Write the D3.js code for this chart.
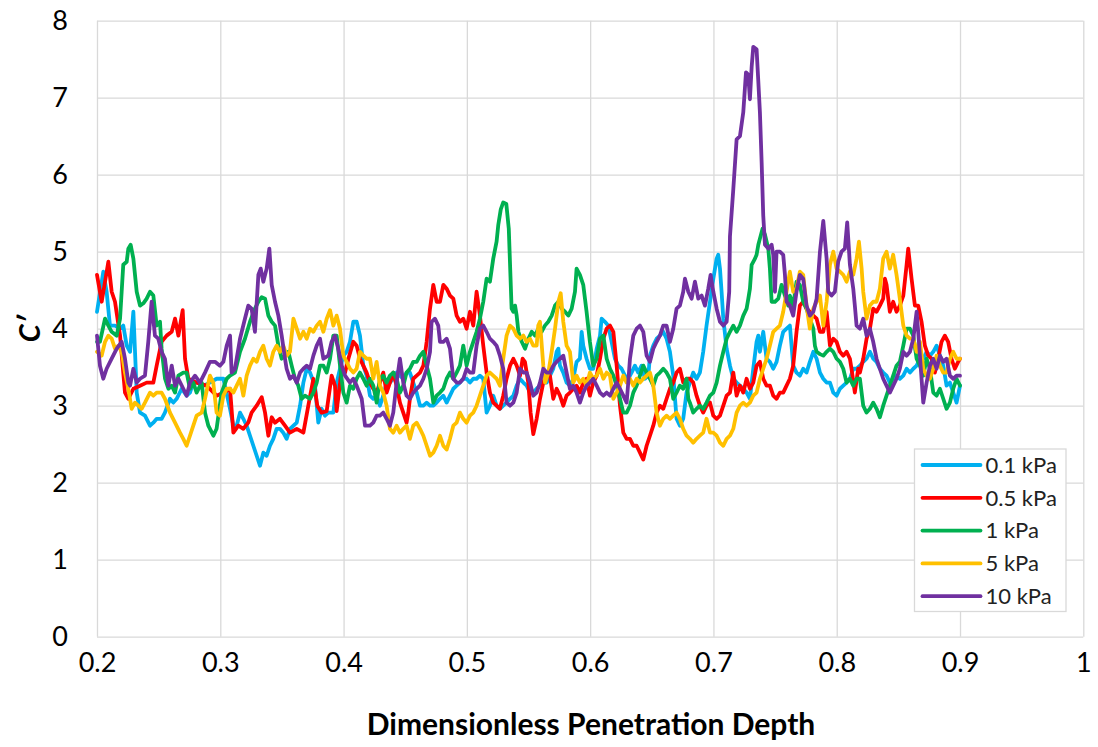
<!DOCTYPE html>
<html>
<head>
<meta charset="utf-8">
<script src="https://cdn.jsdelivr.net/npm/d3@7"></script>
<style>
  body { margin: 0; background: #fff; }
  svg { display: block; }
</style>
</head>
<body>
<svg id="chart" width="1098" height="747"></svg>
<script>
// ---- Data: [dimensionless penetration depth, C'] ----
const seriesNames = ["0.1 kPa", "0.5 kPa", "1 kPa", "5 kPa", "10 kPa"];
const xTicks = [0.2, 0.3, 0.4, 0.5, 0.6, 0.7, 0.8, 0.9, 1];
const xTickLabels = ["0.2", "0.3", "0.4", "0.5", "0.6", "0.7", "0.8", "0.9", "1"];
const yTicks = [0, 1, 2, 3, 4, 5, 6, 7, 8];

const kPa01 = [
  [.2000,4.22],[.2051,4.74],[.2078,4.48],[.2105,4.04],[.2146,4.04],[.2187,4.00],[.2213,4.04],[.2241,3.78],[.2268,3.70],[.2295,4.22],
  [.2322,3.17],[.2349,2.91],[.2389,2.87],[.2430,2.74],[.2457,2.78],[.2484,2.83],[.2524,2.83],[.2551,2.91],[.2592,3.09],[.2619,3.04],
  [.2646,3.09],[.2687,3.22],[.2727,3.13],[.2754,3.17],[.2781,3.30],[.2808,3.30],[.2862,3.26],[.2916,3.30],[.2970,3.35],[.3025,3.35],
  [.3079,2.96],[.3106,2.74],[.3133,2.74],[.3160,2.91],[.3187,2.83],[.3214,2.74],[.3241,2.61],[.3268,2.48],[.3295,2.35],[.3322,2.22],
  [.3349,2.39],[.3376,2.35],[.3403,2.48],[.3430,2.57],[.3457,2.70],[.3484,2.70],[.3511,2.65],[.3538,2.57],[.3565,2.70],[.3593,2.74],
  [.3620,2.78],[.3647,3.00],[.3674,3.30],[.3701,3.48],[.3728,3.43],[.3768,3.26],[.3795,2.78],[.3822,2.96],[.3849,2.87],[.3876,2.91],
  [.3917,2.91],[.3944,3.30],[.3971,3.48],[.3998,3.65],[.4025,3.70],[.4052,3.83],[.4079,4.09],[.4106,4.09],[.4133,3.91],[.4160,3.52],
  [.4187,3.39],[.4214,3.13],[.4241,3.09],[.4268,3.13],[.4295,3.00],[.4322,3.13],[.4349,3.30],[.4376,3.30],[.4403,3.35],[.4430,3.43],
  [.4457,3.39],[.4484,3.35],[.4511,3.43],[.4538,3.43],[.4565,3.30],[.4593,3.17],[.4620,3.00],[.4647,3.00],[.4674,3.04],[.4701,3.00],
  [.4728,3.00],[.4755,3.04],[.4782,3.09],[.4809,3.13],[.4836,3.04],[.4863,3.13],[.4890,3.22],[.4917,3.26],[.4944,3.30],[.4971,3.35],
  [.4998,3.35],[.5025,3.30],[.5052,3.35],[.5079,3.35],[.5106,3.39],[.5133,3.35],[.5160,2.91],[.5187,3.00],[.5214,3.13],[.5241,3.00],
  [.5268,2.96],[.5295,3.00],[.5322,3.04],[.5350,3.09],[.5377,3.13],[.5404,3.26],[.5431,3.35],[.5458,3.30],[.5485,3.26],[.5512,3.17],
  [.5539,3.17],[.5566,3.22],[.5593,3.26],[.5620,3.30],[.5647,3.30],[.5674,3.39],[.5701,3.48],[.5728,3.70],[.5742,3.74],[.5755,3.52],
  [.5782,3.43],[.5809,3.30],[.5836,3.26],[.5863,3.35],[.5890,3.57],[.5917,3.61],[.5931,3.96],[.5944,3.78],[.5971,3.61],[.5998,3.48],
  [.6025,3.48],[.6053,3.74],[.6080,3.91],[.6093,4.13],[.6120,4.09],[.6147,4.04],[.6174,3.83],[.6201,3.61],[.6228,3.52],[.6255,3.48],
  [.6282,3.39],[.6309,3.35],[.6336,3.43],[.6363,3.52],[.6390,3.43],[.6417,3.52],[.6444,3.35],[.6472,3.39],[.6485,3.65],[.6512,3.78],
  [.6539,3.87],[.6566,3.91],[.6593,3.96],[.6620,3.87],[.6647,3.70],[.6674,3.39],[.6701,2.83],[.6728,2.74],[.6755,2.83],[.6782,3.17],
  [.6809,3.30],[.6836,3.43],[.6863,3.35],[.6890,3.43],[.6917,3.70],[.6944,4.04],[.6972,4.35],[.6999,4.65],[.7026,4.91],[.7039,4.96],
  [.7053,4.78],[.7066,4.48],[.7080,4.13],[.7107,3.74],[.7134,3.52],[.7161,3.35],[.7188,3.30],[.7215,3.26],[.7242,3.22],[.7269,3.17],
  [.7296,3.09],[.7323,3.48],[.7350,3.83],[.7364,3.91],[.7377,3.70],[.7404,3.96],[.7431,3.61],[.7458,3.57],[.7485,3.48],[.7512,3.57],
  [.7539,3.78],[.7566,3.96],[.7593,4.00],[.7620,4.04],[.7647,3.52],[.7674,3.43],[.7701,3.39],[.7728,3.48],[.7755,3.43],[.7782,3.57],
  [.7810,3.70],[.7837,3.61],[.7864,3.43],[.7891,3.35],[.7918,3.30],[.7945,3.30],[.7972,3.17],[.7999,3.13],[.8026,3.22],[.8053,3.26],
  [.8080,3.30],[.8107,3.35],[.8134,3.48],[.8161,3.48],[.8188,3.52],[.8215,3.57],[.8242,3.61],[.8269,3.70],[.8296,3.61],[.8323,3.57],
  [.8350,3.48],[.8377,3.43],[.8404,3.39],[.8431,3.30],[.8458,3.35],[.8485,3.39],[.8512,3.35],[.8540,3.39],[.8567,3.48],[.8594,3.43],
  [.8621,3.48],[.8648,3.52],[.8675,3.61],[.8702,3.61],[.8729,3.70],[.8756,3.65],[.8783,3.70],[.8810,3.78],[.8837,3.65],[.8864,3.52],
  [.8891,3.26],[.8918,3.30],[.8945,3.17],[.8972,3.04],[.9000,3.26]
];

const kPa05 = [
  [.2000,4.70],[.2038,4.35],[.2092,4.87],[.2119,4.48],[.2146,4.35],[.2187,3.91],[.2227,3.17],[.2254,3.09],[.2295,3.22],[.2349,3.26],
  [.2403,3.30],[.2457,3.30],[.2484,3.52],[.2524,3.83],[.2565,3.91],[.2606,3.96],[.2633,4.13],[.2660,3.91],[.2695,4.24],[.2714,3.61],
  [.2741,3.35],[.2808,3.30],[.2889,3.26],[.2970,3.13],[.3025,3.17],[.3079,3.22],[.3106,2.65],[.3146,2.74],[.3187,2.70],[.3227,2.78],
  [.3254,2.91],[.3295,3.00],[.3336,3.11],[.3363,2.91],[.3390,2.61],[.3417,2.85],[.3444,2.78],[.3484,2.83],[.3525,2.74],[.3565,2.65],
  [.3620,2.70],[.3674,2.65],[.3714,3.00],[.3755,3.35],[.3787,3.00],[.3822,2.91],[.3863,2.93],[.3903,3.39],[.3930,3.26],[.3944,2.93],
  [.3985,3.48],[.4012,3.43],[.4039,3.61],[.4079,3.83],[.4106,3.78],[.4133,3.61],[.4160,3.52],[.4187,3.43],[.4214,3.30],[.4241,3.22],
  [.4268,3.17],[.4295,3.30],[.4322,3.43],[.4349,3.17],[.4376,3.30],[.4403,3.43],[.4430,3.26],[.4457,3.04],[.4484,2.91],[.4511,2.78],
  [.4525,2.91],[.4538,3.09],[.4565,3.35],[.4593,3.39],[.4620,3.43],[.4647,3.52],[.4674,3.83],[.4701,4.26],[.4728,4.57],[.4755,4.35],
  [.4782,4.35],[.4809,4.57],[.4836,4.52],[.4863,4.43],[.4890,4.39],[.4917,4.17],[.4944,4.09],[.4971,4.13],[.4998,4.00],[.5025,4.22],
  [.5052,4.04],[.5079,4.48],[.5106,4.17],[.5133,3.78],[.5160,3.43],[.5187,3.17],[.5214,3.04],[.5241,3.00],[.5268,2.96],[.5295,3.13],
  [.5322,3.35],[.5350,3.52],[.5377,3.61],[.5404,3.52],[.5431,3.39],[.5452,3.61],[.5471,3.57],[.5498,3.30],[.5517,2.91],[.5539,2.63],
  [.5566,2.83],[.5593,3.09],[.5620,3.30],[.5647,3.43],[.5674,3.39],[.5701,3.09],[.5728,3.22],[.5755,3.13],[.5782,3.00],[.5809,3.13],
  [.5836,3.17],[.5863,3.22],[.5890,3.26],[.5917,3.17],[.5944,3.30],[.5971,3.35],[.5998,3.13],[.6025,3.30],[.6053,3.39],[.6080,3.61],
  [.6107,3.87],[.6134,4.00],[.6161,4.04],[.6188,3.96],[.6215,3.52],[.6242,3.00],[.6269,2.65],[.6296,2.57],[.6323,2.57],[.6350,2.48],
  [.6377,2.48],[.6404,2.39],[.6431,2.30],[.6458,2.48],[.6485,2.61],[.6512,2.74],[.6539,2.91],[.6566,3.00],[.6593,2.96],[.6620,3.09],
  [.6647,3.22],[.6674,3.30],[.6701,3.43],[.6728,3.48],[.6755,3.30],[.6782,3.35],[.6809,3.35],[.6836,3.30],[.6863,3.13],[.6890,3.00],
  [.6917,2.91],[.6944,3.00],[.6972,3.04],[.6999,2.87],[.7026,2.83],[.7053,2.87],[.7080,3.00],[.7107,3.13],[.7134,3.17],[.7161,3.43],
  [.7188,3.13],[.7215,3.26],[.7242,3.17],[.7269,3.35],[.7296,3.22],[.7323,3.30],[.7350,3.52],[.7377,3.57],[.7404,3.35],[.7431,3.26],
  [.7458,3.26],[.7485,3.13],[.7512,3.09],[.7539,3.17],[.7566,3.17],[.7593,3.26],[.7620,3.35],[.7647,3.52],[.7674,3.96],[.7701,4.30],
  [.7728,4.35],[.7755,4.26],[.7782,4.22],[.7810,4.17],[.7837,4.13],[.7864,3.96],[.7891,3.96],[.7918,4.22],[.7945,3.78],[.7972,3.87],
  [.7999,3.83],[.8026,3.70],[.8053,3.65],[.8080,3.70],[.8107,3.61],[.8120,3.48],[.8147,3.17],[.8174,3.48],[.8188,3.43],[.8215,3.61],
  [.8242,3.87],[.8269,4.00],[.8296,4.26],[.8323,4.22],[.8350,4.30],[.8377,4.39],[.8391,4.65],[.8404,4.57],[.8431,4.22],[.8458,4.35],
  [.8485,4.22],[.8512,4.30],[.8540,4.43],[.8567,4.83],[.8580,5.04],[.8607,4.65],[.8634,4.30],[.8661,4.30],[.8688,4.09],[.8715,3.78],
  [.8742,3.65],[.8769,3.61],[.8796,3.43],[.8823,3.61],[.8850,3.83],[.8877,3.91],[.8904,3.83],[.8931,3.61],[.8958,3.48],[.8985,3.57],
  [.9000,3.61]
];

const kPa1 = [
  [.2000,3.83],[.2024,3.83],[.2065,4.13],[.2092,4.04],[.2119,3.96],[.2160,3.91],[.2187,4.13],[.2213,4.83],[.2241,4.87],[.2254,5.04],
  [.2273,5.09],[.2295,4.91],[.2322,4.48],[.2349,4.30],[.2376,4.33],[.2403,4.39],[.2430,4.48],[.2457,4.43],[.2484,4.04],[.2511,4.09],
  [.2524,3.74],[.2552,3.35],[.2579,3.22],[.2606,3.26],[.2633,3.17],[.2660,3.39],[.2700,3.43],[.2727,3.43],[.2754,3.22],[.2781,3.30],
  [.2808,3.17],[.2849,3.30],[.2876,2.91],[.2903,2.74],[.2944,2.61],[.2970,2.70],[.3011,3.17],[.3052,3.35],[.3079,3.39],[.3119,3.43],
  [.3160,3.70],[.3200,3.87],[.3241,4.09],[.3281,4.26],[.3309,4.35],[.3336,4.41],[.3363,4.39],[.3390,4.17],[.3417,4.09],[.3444,4.04],
  [.3471,3.78],[.3498,3.61],[.3525,3.65],[.3552,3.70],[.3579,3.52],[.3606,3.35],[.3633,3.26],[.3660,3.09],[.3687,3.13],[.3728,3.09],
  [.3755,3.17],[.3782,3.30],[.3809,3.52],[.3836,3.52],[.3863,3.43],[.3890,3.61],[.3917,3.91],[.3944,3.91],[.3971,3.52],[.3998,3.17],
  [.4025,3.04],[.4052,3.26],[.4079,3.22],[.4106,3.35],[.4133,3.43],[.4160,3.35],[.4187,3.26],[.4214,3.35],[.4241,3.26],[.4268,3.04],
  [.4295,3.35],[.4322,3.39],[.4349,3.30],[.4376,3.39],[.4403,3.43],[.4430,3.35],[.4457,3.17],[.4484,3.26],[.4511,3.43],[.4538,3.48],
  [.4565,3.57],[.4593,3.57],[.4620,3.65],[.4647,3.70],[.4674,3.52],[.4701,3.35],[.4728,3.04],[.4755,3.13],[.4782,3.17],[.4809,3.22],
  [.4836,3.35],[.4863,3.43],[.4890,3.35],[.4917,3.43],[.4944,3.52],[.4971,3.78],[.4998,3.52],[.5025,3.70],[.5052,3.83],[.5079,3.96],
  [.5106,4.13],[.5133,4.35],[.5160,4.65],[.5187,4.61],[.5214,4.91],[.5241,5.13],[.5255,5.35],[.5275,5.55],[.5295,5.64],[.5320,5.62],
  [.5340,5.30],[.5363,4.26],[.5377,4.22],[.5391,4.30],[.5404,4.17],[.5418,3.96],[.5445,3.83],[.5472,3.74],[.5499,3.87],[.5526,3.96],
  [.5552,3.91],[.5579,4.00],[.5606,3.96],[.5633,4.04],[.5660,4.09],[.5688,4.17],[.5715,4.30],[.5742,4.35],[.5769,4.26],[.5796,4.22],
  [.5823,4.17],[.5850,4.26],[.5877,4.48],[.5890,4.78],[.5917,4.70],[.5944,4.57],[.5971,4.22],[.5998,3.83],[.6025,3.52],[.6053,3.61],
  [.6080,3.87],[.6107,3.91],[.6134,3.61],[.6161,3.48],[.6188,3.39],[.6215,3.26],[.6242,3.09],[.6269,2.91],[.6296,2.91],[.6323,3.00],
  [.6350,3.17],[.6377,3.26],[.6404,3.39],[.6431,3.52],[.6458,3.43],[.6485,3.35],[.6512,3.26],[.6539,3.39],[.6566,3.43],[.6593,3.48],
  [.6620,3.43],[.6647,3.35],[.6674,3.09],[.6701,3.17],[.6728,3.26],[.6755,3.22],[.6782,3.35],[.6796,3.09],[.6809,3.04],[.6836,2.91],
  [.6863,2.96],[.6890,3.00],[.6917,2.96],[.6944,3.04],[.6972,3.13],[.6999,3.17],[.7026,3.30],[.7053,3.52],[.7080,3.70],[.7107,3.87],
  [.7134,3.96],[.7161,4.04],[.7188,3.96],[.7215,4.04],[.7242,4.17],[.7269,4.26],[.7283,4.39],[.7296,4.52],[.7310,4.83],[.7337,4.91],
  [.7350,4.96],[.7364,5.09],[.7377,5.17],[.7399,5.30],[.7418,5.22],[.7445,5.04],[.7458,4.78],[.7472,4.35],[.7499,4.35],[.7526,4.39],
  [.7553,4.57],[.7580,4.43],[.7607,4.30],[.7620,4.43],[.7647,4.30],[.7674,4.61],[.7701,4.57],[.7728,4.35],[.7755,4.26],[.7782,4.13],
  [.7810,4.00],[.7823,3.78],[.7837,3.70],[.7864,3.67],[.7891,3.65],[.7918,3.70],[.7945,3.74],[.7972,3.70],[.7999,3.61],[.8026,3.57],
  [.8053,3.48],[.8080,3.30],[.8107,3.35],[.8134,3.26],[.8161,3.35],[.8188,3.35],[.8215,3.00],[.8242,2.91],[.8269,2.96],[.8296,3.04],
  [.8323,2.96],[.8350,2.85],[.8377,3.00],[.8404,3.13],[.8431,3.26],[.8458,3.39],[.8485,3.52],[.8512,3.57],[.8540,3.78],[.8567,4.00],
  [.8594,4.00],[.8621,3.91],[.8648,3.61],[.8675,3.52],[.8702,3.39],[.8729,3.61],[.8756,3.48],[.8783,3.17],[.8810,3.13],[.8837,3.22],
  [.8864,3.09],[.8891,2.96],[.8918,3.04],[.8945,3.22],[.8972,3.35],[.9000,3.26]
];

const kPa5 = [
  [.2000,3.70],[.2038,3.65],[.2065,3.83],[.2092,3.91],[.2119,3.87],[.2146,3.74],[.2173,3.78],[.2200,3.70],[.2227,3.43],[.2254,3.22],
  [.2281,2.96],[.2308,3.04],[.2335,3.00],[.2362,2.96],[.2389,3.04],[.2430,3.17],[.2457,3.13],[.2484,3.17],[.2524,3.17],[.2551,3.09],
  [.2592,2.91],[.2633,2.78],[.2673,2.65],[.2700,2.57],[.2727,2.48],[.2754,2.61],[.2781,2.74],[.2808,2.87],[.2849,2.91],[.2876,3.09],
  [.2916,3.39],[.2943,3.30],[.2970,2.91],[.2997,2.87],[.3025,3.13],[.3052,3.22],[.3079,3.22],[.3106,3.17],[.3133,3.26],[.3160,3.35],
  [.3187,3.13],[.3214,3.39],[.3241,3.52],[.3268,3.61],[.3295,3.57],[.3322,3.70],[.3349,3.78],[.3376,3.61],[.3403,3.52],[.3430,3.70],
  [.3457,3.78],[.3484,3.70],[.3511,3.78],[.3538,3.65],[.3565,3.70],[.3593,4.13],[.3620,4.00],[.3647,3.87],[.3674,3.96],[.3701,3.87],
  [.3728,4.00],[.3755,3.96],[.3782,4.04],[.3809,4.09],[.3836,3.96],[.3863,4.13],[.3890,4.24],[.3917,4.04],[.3944,4.17],[.3971,4.00],
  [.3998,3.65],[.4025,3.57],[.4052,3.48],[.4079,3.43],[.4106,3.48],[.4133,3.70],[.4160,3.65],[.4187,3.61],[.4214,3.61],[.4241,3.35],
  [.4268,3.57],[.4295,3.26],[.4322,3.17],[.4349,3.00],[.4376,2.70],[.4403,2.65],[.4430,2.74],[.4457,2.65],[.4484,2.70],[.4511,2.74],
  [.4538,2.57],[.4565,2.74],[.4593,2.78],[.4620,2.70],[.4647,2.61],[.4674,2.48],[.4701,2.35],[.4728,2.39],[.4755,2.48],[.4782,2.61],
  [.4809,2.48],[.4836,2.43],[.4863,2.57],[.4890,2.74],[.4917,2.78],[.4944,2.91],[.4971,2.83],[.4998,2.78],[.5025,2.87],[.5052,2.91],
  [.5079,3.00],[.5106,3.13],[.5133,3.26],[.5160,3.39],[.5187,3.43],[.5214,3.39],[.5241,3.35],[.5268,3.26],[.5295,3.61],[.5322,3.91],
  [.5350,4.04],[.5377,4.00],[.5404,3.91],[.5431,3.87],[.5458,3.91],[.5485,3.83],[.5512,3.87],[.5539,3.78],[.5566,3.78],[.5579,4.04],
  [.5593,4.09],[.5620,3.52],[.5634,3.30],[.5661,3.43],[.5688,3.70],[.5715,4.00],[.5742,4.35],[.5761,4.46],[.5782,4.09],[.5809,3.78],
  [.5836,3.70],[.5863,3.30],[.5890,3.39],[.5917,3.30],[.5944,3.35],[.5971,3.26],[.5998,3.43],[.6025,3.35],[.6053,3.39],[.6080,3.48],
  [.6107,3.35],[.6134,3.43],[.6161,3.39],[.6188,3.09],[.6215,3.17],[.6242,3.26],[.6269,3.39],[.6296,3.30],[.6323,3.35],[.6350,3.26],
  [.6377,3.35],[.6404,3.30],[.6431,3.35],[.6458,3.39],[.6485,3.43],[.6512,3.26],[.6539,2.91],[.6566,2.74],[.6593,2.83],[.6620,2.87],
  [.6647,2.83],[.6674,2.87],[.6701,2.91],[.6728,2.83],[.6755,2.70],[.6782,2.61],[.6809,2.57],[.6836,2.52],[.6863,2.57],[.6890,2.61],
  [.6917,2.65],[.6944,2.83],[.6972,2.65],[.6999,2.65],[.7026,2.61],[.7053,2.52],[.7080,2.48],[.7107,2.57],[.7134,2.61],[.7161,2.70],
  [.7188,2.91],[.7215,3.00],[.7242,3.04],[.7269,3.00],[.7296,3.04],[.7323,3.13],[.7350,3.17],[.7377,3.35],[.7404,3.48],[.7431,3.61],
  [.7458,3.78],[.7485,3.96],[.7512,4.00],[.7539,4.04],[.7566,4.22],[.7593,4.48],[.7620,4.74],[.7647,4.48],[.7674,4.52],[.7701,4.74],
  [.7728,4.70],[.7755,4.30],[.7782,4.00],[.7810,4.26],[.7837,4.35],[.7864,4.43],[.7891,4.04],[.7918,4.35],[.7945,4.83],[.7972,5.00],
  [.7999,4.78],[.8026,4.74],[.8053,4.70],[.8080,4.61],[.8107,4.74],[.8134,4.70],[.8161,4.91],[.8180,5.13],[.8202,4.78],[.8215,4.48],
  [.8242,4.13],[.8269,4.30],[.8296,4.35],[.8323,4.35],[.8350,4.52],[.8377,4.91],[.8404,5.00],[.8431,4.78],[.8458,4.96],[.8485,4.70],
  [.8512,4.39],[.8540,4.04],[.8567,3.91],[.8594,3.87],[.8621,3.87],[.8648,3.70],[.8675,3.83],[.8702,3.48],[.8729,3.39],[.8756,3.35],
  [.8783,3.48],[.8810,3.65],[.8837,3.52],[.8864,3.43],[.8891,3.43],[.8918,3.61],[.8945,3.70],[.8972,3.61],[.9000,3.61]
];

const kPa10 = [
  [.2000,3.91],[.2024,3.52],[.2051,3.35],[.2078,3.48],[.2119,3.61],[.2160,3.74],[.2200,3.83],[.2227,3.61],[.2254,3.30],[.2268,3.26],
  [.2295,3.48],[.2322,3.30],[.2349,3.35],[.2389,3.39],[.2416,3.83],[.2443,4.35],[.2470,3.91],[.2497,3.87],[.2524,3.70],[.2551,3.61],
  [.2579,3.26],[.2606,3.52],[.2633,3.26],[.2660,3.35],[.2700,3.22],[.2727,3.13],[.2754,3.30],[.2795,3.39],[.2835,3.30],[.2876,3.43],
  [.2916,3.57],[.2957,3.57],[.2997,3.52],[.3025,3.57],[.3052,3.78],[.3079,3.91],[.3092,3.43],[.3119,3.48],[.3160,3.87],[.3200,4.13],
  [.3227,4.30],[.3254,4.26],[.3281,3.96],[.3309,4.70],[.3328,4.78],[.3349,4.61],[.3376,4.78],[.3398,5.04],[.3417,4.57],[.3444,4.35],
  [.3471,4.17],[.3498,3.91],[.3525,3.61],[.3538,3.48],[.3565,3.35],[.3593,3.39],[.3620,3.30],[.3647,3.43],[.3674,3.48],[.3701,3.52],
  [.3728,3.48],[.3755,3.65],[.3782,3.78],[.3809,3.87],[.3836,3.61],[.3876,3.65],[.3903,3.83],[.3930,3.91],[.3957,3.74],[.3985,3.52],
  [.4012,3.39],[.4052,3.30],[.4079,3.35],[.4106,3.26],[.4147,3.09],[.4174,2.74],[.4201,2.74],[.4214,2.74],[.4241,2.78],[.4268,2.87],
  [.4295,2.87],[.4322,2.91],[.4349,2.83],[.4376,2.74],[.4403,2.91],[.4430,3.30],[.4457,3.61],[.4484,3.30],[.4511,3.13],[.4538,3.09],
  [.4565,3.17],[.4593,3.22],[.4620,3.26],[.4647,3.35],[.4674,3.48],[.4701,3.70],[.4714,4.09],[.4741,4.13],[.4768,4.04],[.4782,3.83],
  [.4809,3.83],[.4836,3.87],[.4863,3.74],[.4890,3.35],[.4917,3.30],[.4944,3.30],[.4971,3.35],[.4998,3.48],[.5025,3.43],[.5052,3.43],
  [.5079,3.78],[.5106,4.00],[.5133,4.04],[.5160,3.96],[.5187,3.87],[.5214,3.83],[.5241,3.78],[.5268,3.65],[.5295,3.48],[.5322,3.04],
  [.5350,3.00],[.5377,3.04],[.5404,3.17],[.5431,3.48],[.5458,3.43],[.5485,3.43],[.5512,3.30],[.5539,3.13],[.5566,3.17],[.5593,3.30],
  [.5620,3.48],[.5647,3.43],[.5674,3.43],[.5701,3.52],[.5728,3.57],[.5755,3.61],[.5782,3.65],[.5809,3.43],[.5836,3.22],[.5863,3.26],
  [.5890,3.17],[.5917,3.04],[.5944,3.17],[.5971,3.26],[.5998,3.30],[.6025,3.35],[.6053,3.26],[.6080,3.17],[.6107,3.13],[.6134,3.17],
  [.6161,3.13],[.6188,3.22],[.6215,3.30],[.6242,3.22],[.6269,3.13],[.6296,3.04],[.6309,3.30],[.6323,3.61],[.6350,3.91],[.6377,4.00],
  [.6404,4.04],[.6431,3.96],[.6458,3.65],[.6485,3.57],[.6512,3.74],[.6539,3.83],[.6566,3.91],[.6593,4.04],[.6620,4.04],[.6647,3.83],
  [.6674,4.00],[.6701,4.26],[.6728,4.30],[.6755,4.48],[.6769,4.65],[.6796,4.48],[.6823,4.39],[.6850,4.61],[.6877,4.39],[.6904,4.43],
  [.6931,4.30],[.6958,4.52],[.6977,4.70],[.6999,4.48],[.7026,4.26],[.7053,4.09],[.7080,4.04],[.7107,4.09],[.7128,4.48],[.7134,5.20],
  [.7161,5.81],[.7188,6.46],[.7215,6.50],[.7242,6.81],[.7264,7.33],[.7282,7.30],[.7296,6.98],[.7310,7.40],[.7323,7.66],[.7350,7.63],
  [.7363,7.24],[.7377,6.81],[.7391,6.16],[.7404,5.47],[.7418,5.09],[.7445,5.04],[.7472,5.09],[.7485,4.96],[.7499,4.48],[.7512,5.00],
  [.7539,5.00],[.7566,4.96],[.7580,4.70],[.7593,4.35],[.7620,4.30],[.7647,4.17],[.7674,4.48],[.7701,4.70],[.7728,4.65],[.7755,4.30],
  [.7782,4.17],[.7810,4.22],[.7837,4.39],[.7864,5.00],[.7891,5.40],[.7918,4.91],[.7931,4.48],[.7958,4.43],[.7985,4.48],[.8012,4.87],
  [.8039,5.00],[.8066,5.04],[.8085,5.38],[.8107,4.83],[.8134,4.52],[.8147,4.30],[.8161,4.04],[.8188,4.00],[.8215,4.13],[.8242,3.91],
  [.8269,4.00],[.8296,3.83],[.8323,3.61],[.8350,3.48],[.8377,3.35],[.8404,3.26],[.8431,3.17],[.8458,3.26],[.8485,3.35],[.8512,3.48],
  [.8540,3.70],[.8567,3.65],[.8594,3.70],[.8621,3.87],[.8648,4.22],[.8661,3.96],[.8688,3.35],[.8702,3.04],[.8729,3.30],[.8756,3.52],
  [.8783,3.61],[.8810,3.48],[.8837,3.65],[.8864,3.57],[.8891,3.61],[.8918,3.39],[.8945,3.35],[.8972,3.39],[.9000,3.39]
];

const seriesValues = [kPa01, kPa05, kPa1, kPa5, kPa10];
const seriesColors = ["#00B0F0", "#FF0000", "#00B050", "#FFC000", "#7030A0"];

// ---- Layout ----
const width = 1098, height = 747;
const margin = { top: 20.7, right: 14.7, bottom: 110.3, left: 97 };
const innerW = width - margin.left - margin.right;
const innerH = height - margin.top - margin.bottom;
const gridColor = "#d9d9d9";
const fontFamily = "Lato, 'Open Sans', 'DejaVu Sans', sans-serif";

const svg = d3.select("#chart");
const g = svg.append("g").attr("transform", `translate(${margin.left},${margin.top})`);

const x = d3.scaleLinear().domain([0.2, 1]).range([0, innerW]);
const y = d3.scaleLinear().domain([0, 8]).range([innerH, 0]);

// Gridlines
g.append("g")
  .attr("class", "grid-y")
  .call(d3.axisLeft(y).tickValues(yTicks).tickSize(-innerW).tickFormat(""))
  .call(s => s.select(".domain").remove())
  .call(s => s.selectAll("line").attr("stroke", gridColor).attr("stroke-width", 1.3));

g.append("g")
  .attr("class", "grid-x")
  .attr("transform", `translate(0,${innerH})`)
  .call(d3.axisBottom(x).tickValues(xTicks).tickSize(-innerH).tickFormat(""))
  .call(s => s.select(".domain").remove())
  .call(s => s.selectAll("line").attr("stroke", gridColor).attr("stroke-width", 1.3));

// Tick labels
const yAxis = g.append("g")
  .call(d3.axisLeft(y).tickValues(yTicks).tickSize(0).tickPadding(29).tickFormat(d3.format("d")));
yAxis.select(".domain").remove();
yAxis.selectAll("text")
  .attr("font-family", fontFamily).attr("font-size", 27).attr("fill", "#000");

const xAxis = g.append("g")
  .attr("transform", `translate(0,${innerH})`)
  .call(d3.axisBottom(x).tickValues(xTicks).tickSize(0).tickPadding(16)
    .tickFormat((d, i) => xTickLabels[i]));
xAxis.select(".domain").remove();
xAxis.selectAll("text")
  .attr("font-family", fontFamily).attr("font-size", 27).attr("fill", "#000");

// Axis titles
svg.append("text")
  .attr("x", 591)
  .attr("y", 735)
  .attr("text-anchor", "middle")
  .attr("font-family", fontFamily)
  .attr("font-weight", "bold")
  .attr("font-size", 30)
  .attr("fill", "#000")
  .text("Dimensionless Penetration Depth");

svg.append("text")
  .attr("transform", `translate(40,${margin.top + y(4)}) rotate(-90)`)
  .attr("text-anchor", "middle")
  .attr("font-family", fontFamily)
  .attr("font-weight", "bold")
  .attr("font-style", "italic")
  .attr("font-size", 29)
  .attr("fill", "#000")
  .text("C′");

// Series lines
const line = d3.line().x(d => x(d[0])).y(d => y(d[1]));
g.append("g")
  .selectAll("path")
  .data(seriesValues)
  .join("path")
  .attr("d", line)
  .attr("fill", "none")
  .attr("stroke", (d, i) => seriesColors[i])
  .attr("stroke-width", 3.8)
  .attr("stroke-linejoin", "round")
  .attr("stroke-linecap", "round");

// Legend
const legend = svg.append("g").attr("transform", "translate(914.5,449)");
legend.append("rect")
  .attr("width", 151.5).attr("height", 162.5)
  .attr("fill", "#fff").attr("stroke", gridColor).attr("stroke-width", 1.3);
const items = legend.selectAll("g.item")
  .data(seriesNames)
  .join("g")
  .attr("class", "item")
  .attr("transform", (d, i) => `translate(0,${16 + i * 32.8})`);
items.append("line")
  .attr("x1", 8).attr("x2", 66)
  .attr("stroke", (d, i) => seriesColors[i])
  .attr("stroke-width", 3.8)
  .attr("stroke-linecap", "round");
items.append("text")
  .attr("x", 71).attr("y", 0).attr("dy", "0.35em")
  .attr("font-family", fontFamily).attr("font-size", 22).attr("fill", "#222")
  .text(d => d);
</script>
</body>
</html>
